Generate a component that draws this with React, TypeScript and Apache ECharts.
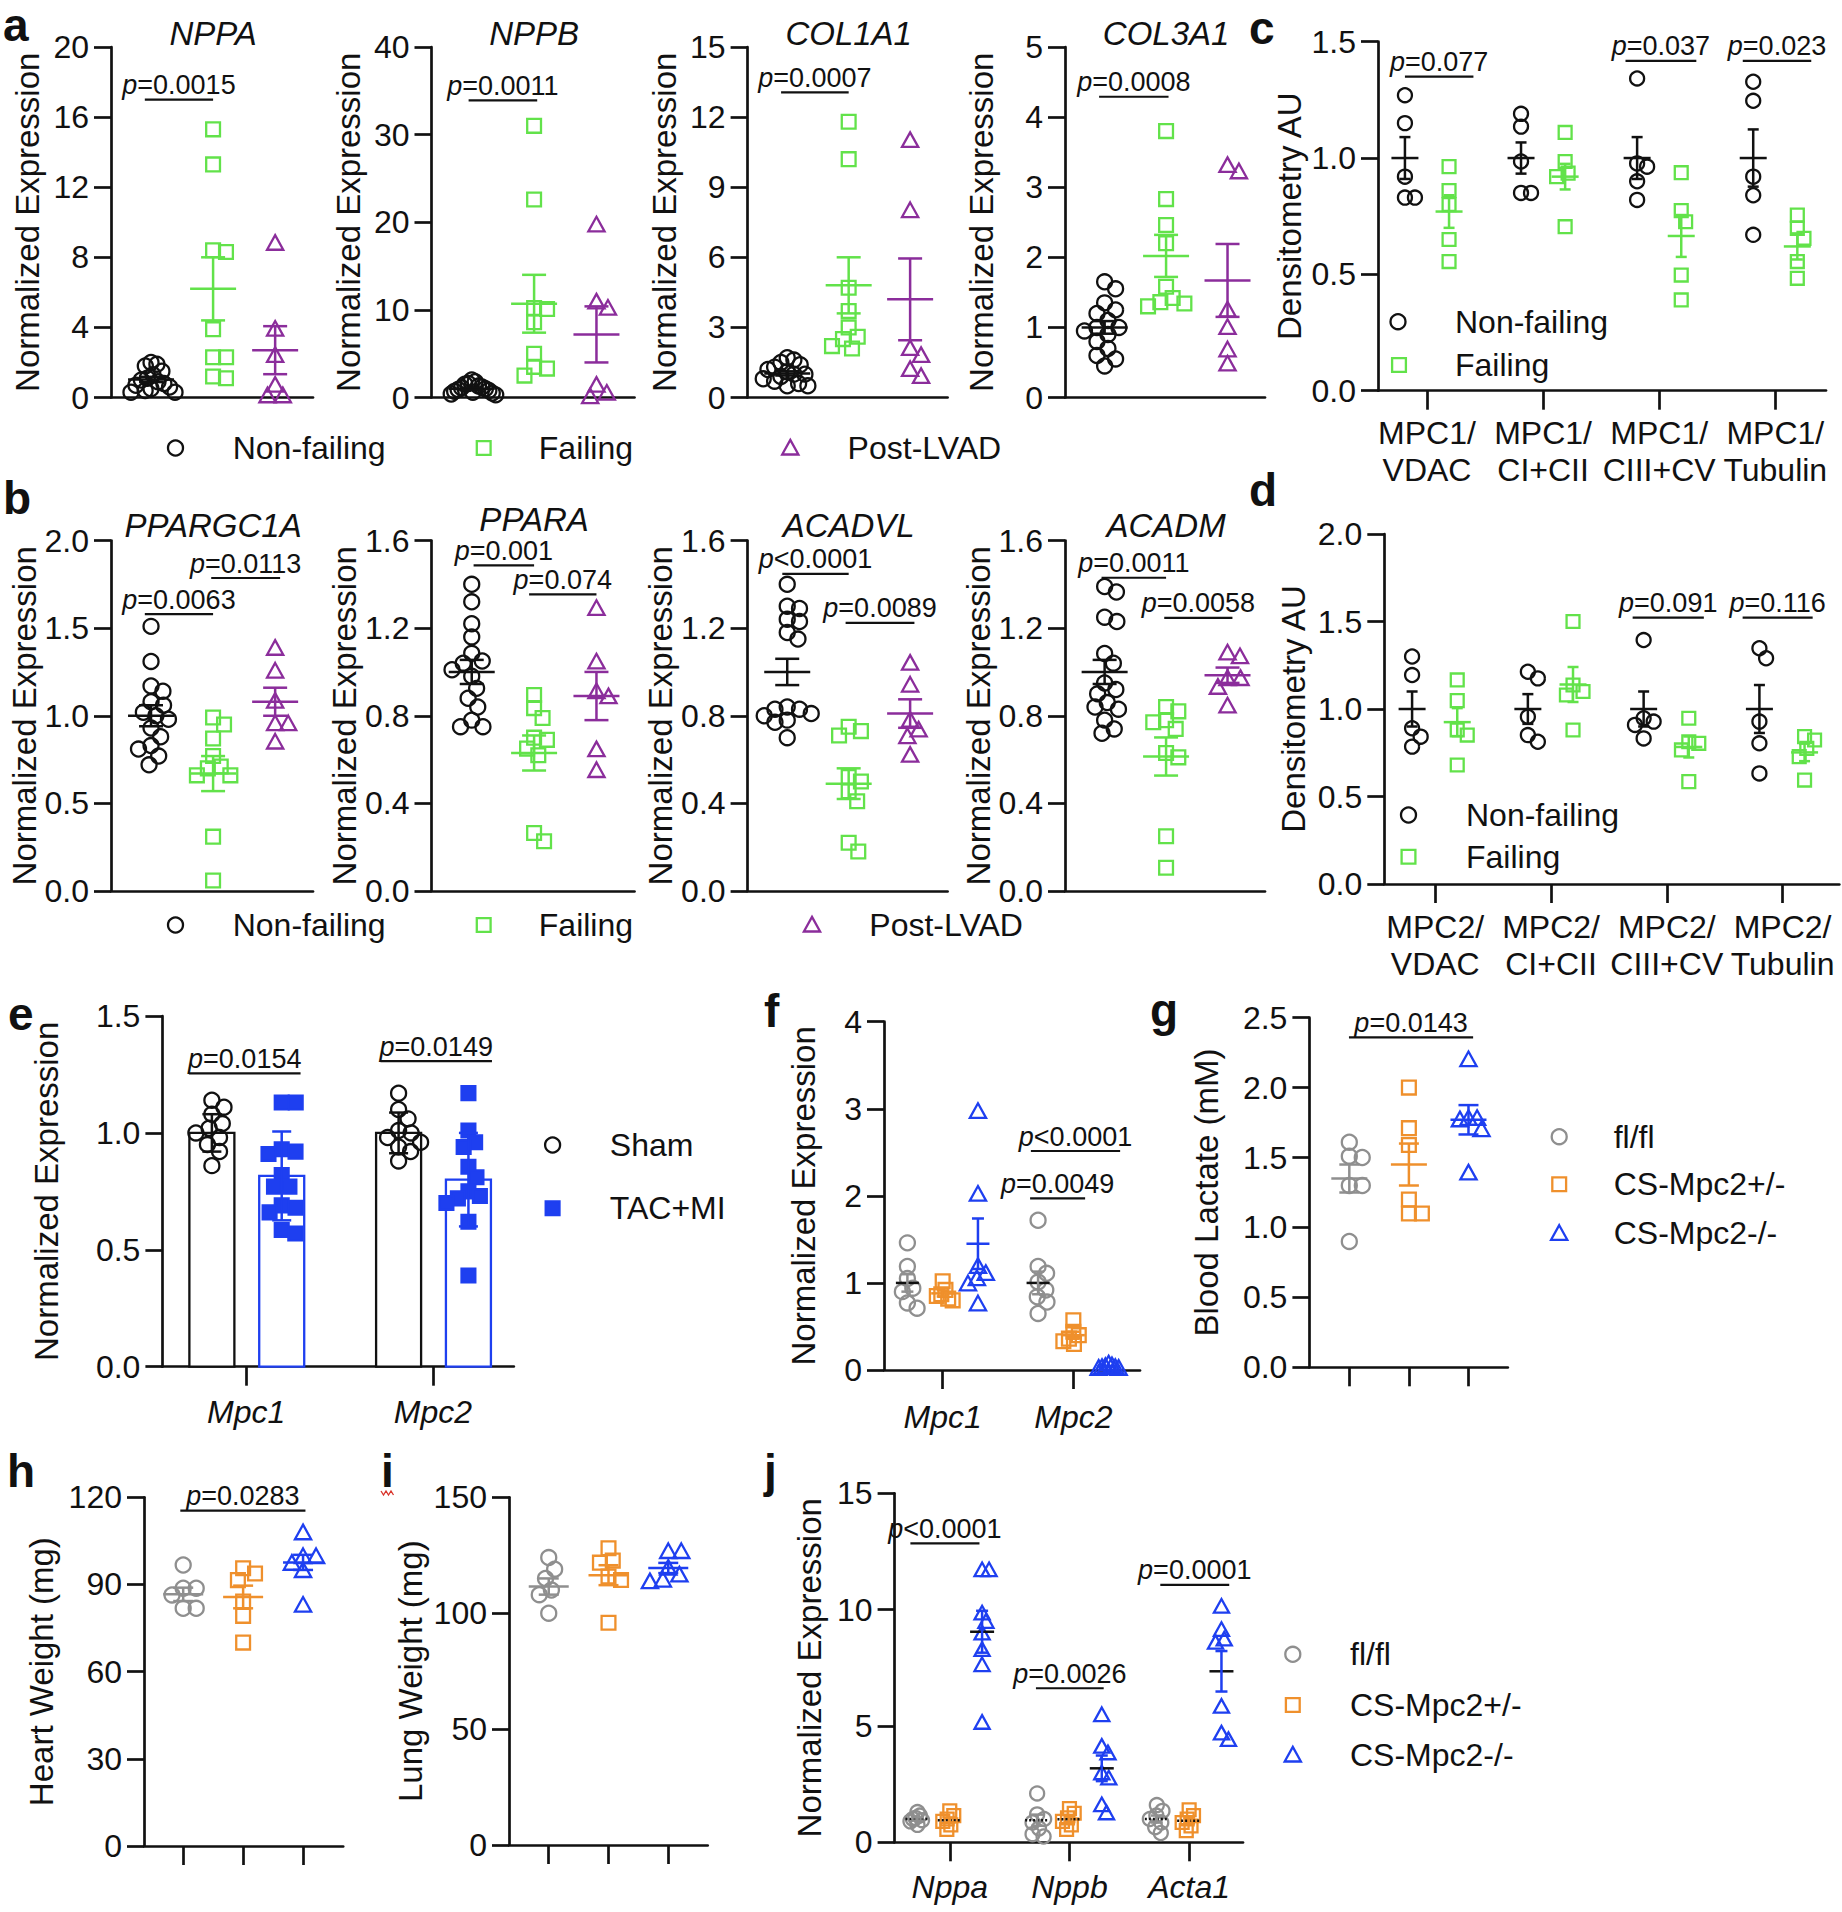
import React, { useEffect, useRef } from 'react';
import * as echarts from 'echarts';

const FONT = '"Liberation Sans", Arial, Helvetica, sans-serif';
const INK = '#111111';
const GREEN = '#62e24a';
const PURPLE = '#8b2d9b';
const GRAY = '#8f8f8f';
const ORANGE = '#ef902c';
const BLUE = '#1e3ff0';

// ---------------- categories / names ----------------
const HUMAN_GROUPS = ['Non-failing', 'Failing', 'Post-LVAD'];
const MOUSE_GROUPS = ['fl/fl', 'CS-Mpc2+/-', 'CS-Mpc2-/-'];
const SURGERY_GROUPS = ['Sham', 'TAC+MI'];
const A_GENES = ['NPPA', 'NPPB', 'COL1A1', 'COL3A1'];
const B_GENES = ['PPARGC1A', 'PPARA', 'ACADVL', 'ACADM'];
const C_CATS = ['MPC1/\nVDAC', 'MPC1/\nCI+CII', 'MPC1/\nCIII+CV', 'MPC1/\nTubulin'];
const D_CATS = ['MPC2/\nVDAC', 'MPC2/\nCI+CII', 'MPC2/\nCIII+CV', 'MPC2/\nTubulin'];
const E_GENES = ['Mpc1', 'Mpc2'];
const F_GENES = ['Mpc1', 'Mpc2'];
const J_GENES = ['Nppa', 'Nppb', 'Acta1'];

// ---------------- axis scales [min, max, interval] ----------------
const A_SCALES = [[0, 20, 4], [0, 40, 10], [0, 15, 3], [0, 5, 1]];
const B_SCALES = [[0, 2, 0.5], [0, 1.6, 0.4], [0, 1.6, 0.4], [0, 1.6, 0.4]];
const C_SCALE = [0, 1.5, 0.5];
const D_SCALE = [0, 2, 0.5];
const E_SCALE = [0, 1.5, 0.5];
const F_SCALE = [0, 4, 1];
const G_SCALE = [0, 2.5, 0.5];
const H_SCALE = [0, 120, 30];
const I_SCALE = [0, 150, 50];
const J_SCALE = [0, 15, 5];

// ---------------- panel a ----------------
const NPPA_NF = [2.0, 1.9, 1.8, 1.5, 1.3, 1.1, 1.0, 0.9, 0.8, 0.7, 0.6, 0.5, 0.4, 0.3, 0.3];
const NPPA_F = [15.3, 13.3, 8.4, 8.3, 3.9, 2.3, 2.3, 1.2, 1.1];
const NPPA_LVAD = [8.8, 3.9, 2.4, 0.7, 0.1, 0.1];
const NPPA_MEAN = [1.03, 6.2, 2.7];
const NPPA_SEM = [0.15, 1.8, 1.37];

const NPPB_NF = [2.0, 1.8, 1.6, 1.5, 1.3, 1.2, 1.1, 1.0, 0.9, 0.8, 0.7, 0.6, 0.5, 0.4, 0.3];
const NPPB_F = [31.0, 22.6, 10.2, 10.1, 8.6, 5.0, 3.5, 3.3, 2.5];
const NPPB_LVAD = [19.7, 10.9, 10.2, 1.4, 0.5, 0.1];
const NPPB_MEAN = [1.0, 10.7, 7.2];
const NPPB_SEM = [0.13, 3.3, 3.2];

const COL1A1_NF = [1.7, 1.6, 1.5, 1.4, 1.3, 1.2, 1.1, 1.0, 1.0, 0.9, 0.8, 0.7, 0.6, 0.5, 0.5];
const COL1A1_F = [11.8, 10.2, 4.7, 3.7, 3.0, 2.6, 2.5, 2.2, 2.1];
const COL1A1_LVAD = [11.0, 8.0, 2.1, 1.8, 1.2, 0.9];
const COL1A1_MEAN = [1.03, 4.8, 4.2];
const COL1A1_SEM = [0.09, 1.2, 1.75];

const COL3A1_NF = [1.65, 1.55, 1.35, 1.25, 1.2, 1.1, 1.0, 1.0, 0.95, 0.9, 0.8, 0.7, 0.6, 0.55, 0.45];
const COL3A1_F = [3.8, 2.83, 2.46, 2.2, 1.58, 1.42, 1.36, 1.34, 1.3];
const COL3A1_LVAD = [3.31, 3.22, 1.25, 1.0, 0.68, 0.48];
const COL3A1_MEAN = [1.0, 2.02, 1.67];
const COL3A1_SEM = [0.09, 0.3, 0.52];

const A_P = [
  [{ x1: 0.9, x2: 2.0, y: 17, t: '=0.0015' }],
  [{ x1: 0.95, x2: 2.05, y: 33.9, t: '=0.0011' }],
  [{ x1: 0.9, x2: 2.0, y: 13.06, t: '=0.0007' }],
  [{ x1: 0.91, x2: 2.04, y: 4.29, t: '=0.0008' }],
];

// ---------------- panel b ----------------
const PPARGC1A_NF = [1.51, 1.31, 1.17, 1.14, 1.08, 1.06, 1.02, 1.0, 0.98, 0.93, 0.88, 0.83, 0.81, 0.77, 0.72];
const PPARGC1A_F = [0.99, 0.95, 0.87, 0.77, 0.71, 0.7, 0.66, 0.66, 0.31, 0.06];
const PPARGC1A_LVAD = [1.385, 1.255, 1.083, 0.955, 0.955, 0.85];
const PPARGC1A_MEAN = [1.0, 0.67, 1.08];
const PPARGC1A_SEM = [0.06, 0.1, 0.08];

const PPARA_NF = [1.4, 1.32, 1.22, 1.16, 1.085, 1.05, 1.04, 1.01, 0.98, 0.925, 0.88, 0.84, 0.78, 0.75, 0.75];
const PPARA_F = [0.895, 0.835, 0.79, 0.7, 0.69, 0.65, 0.62, 0.265, 0.227];
const PPARA_LVAD = [1.29, 1.046, 0.91, 0.887, 0.645, 0.55];
const PPARA_MEAN = [1.0, 0.63, 0.89];
const PPARA_SEM = [0.055, 0.08, 0.11];

const ACADVL_NF = [1.4, 1.3, 1.29, 1.24, 1.23, 1.18, 1.15, 0.84, 0.83, 0.83, 0.81, 0.8, 0.78, 0.77, 0.7];
const ACADVL_F = [0.75, 0.73, 0.71, 0.52, 0.5, 0.455, 0.41, 0.22, 0.18];
const ACADVL_LVAD = [1.04, 0.94, 0.78, 0.735, 0.705, 0.62];
const ACADVL_MEAN = [1.0, 0.49, 0.81];
const ACADVL_SEM = [0.06, 0.07, 0.065];

const ACADM_NF = [1.39, 1.365, 1.25, 1.23, 1.084, 1.04, 0.95, 0.92, 0.9, 0.86, 0.84, 0.83, 0.78, 0.74, 0.72];
const ACADM_F = [0.84, 0.82, 0.78, 0.77, 0.74, 0.63, 0.61, 0.25, 0.106];
const ACADM_LVAD = [1.087, 1.07, 0.97, 0.97, 0.93, 0.845];
const ACADM_MEAN = [1.0, 0.614, 0.985];
const ACADM_SEM = [0.055, 0.087, 0.035];

const B_P = [
  [{ x1: 0.9, x2: 2.0, y: 1.58, t: '=0.0063' }, { x1: 1.97, x2: 3.08, y: 1.786, t: '=0.0113' }],
  [{ x1: 1.03, x2: 2.0, y: 1.486, t: '=0.001' }, { x1: 1.92, x2: 3.0, y: 1.354, t: '=0.074' }],
  [{ x1: 0.92, x2: 2.0, y: 1.448, t: '<0.0001' }, { x1: 1.95, x2: 3.07, y: 1.224, t: '=0.0089' }],
  [{ x1: 0.95, x2: 2.0, y: 1.43, t: '=0.0011' }, { x1: 1.97, x2: 3.08, y: 1.247, t: '=0.0058' }],
];

// ---------------- panel c ----------------
const C_NF = [[1.27, 1.15, 0.92, 0.83, 0.83], [1.19, 1.135, 0.985, 0.85, 0.85], [1.342, 0.977, 0.963, 0.9, 0.82], [1.328, 1.246, 0.92, 0.84, 0.67]];
const C_F = [[0.963, 0.86, 0.8, 0.65, 0.555], [1.11, 0.985, 0.935, 0.92, 0.705], [0.937, 0.774, 0.726, 0.497, 0.39], [0.755, 0.698, 0.655, 0.555, 0.483]];
const C_NF_MEAN = [1, 1, 1, 1];
const C_NF_SEM = [0.09, 0.067, 0.09, 0.123];
const C_F_MEAN = [0.77, 0.92, 0.665, 0.62];
const C_F_SEM = [0.07, 0.055, 0.09, 0.056];
const C_P = [
  { x1: 0.81, x2: 1.4, y: 1.35, t: '=0.077' },
  { x1: 2.71, x2: 3.32, y: 1.418, t: '=0.037' },
  { x1: 3.72, x2: 4.31, y: 1.418, t: '=0.023' },
];

// ---------------- panel d ----------------
const D_NF = [[1.3, 1.194, 0.89, 0.842, 0.785], [1.213, 1.175, 0.956, 0.851, 0.813], [1.394, 0.947, 0.928, 0.909, 0.832], [1.347, 1.29, 0.928, 0.804, 0.632]];
const D_F = [[1.166, 1.048, 0.88, 0.851, 0.68], [1.5, 1.137, 1.1, 1.08, 0.88], [0.947, 0.813, 0.804, 0.766, 0.585], [0.842, 0.823, 0.775, 0.728, 0.594]];
const D_NF_MEAN = [1, 1, 1, 1];
const D_NF_SEM = [0.1, 0.085, 0.1, 0.137];
const D_F_MEAN = [0.925, 1.14, 0.783, 0.752];
const D_F_SEM = [0.08, 0.1, 0.06, 0.05];
const D_P = [
  { x1: 2.705, x2: 3.32, y: 1.522, t: '=0.091' },
  { x1: 3.655, x2: 4.26, y: 1.522, t: '=0.116' },
];

// ---------------- panel e ----------------
const E_SHAM = [[1.14, 1.11, 1.08, 1.04, 1.02, 1.0, 0.98, 0.95, 0.92, 0.86], [1.17, 1.1, 1.06, 1.01, 1.0, 0.98, 0.96, 0.94, 0.92, 0.88]];
const E_TAC = [[1.13, 1.13, 0.93, 0.92, 0.91, 0.82, 0.77, 0.77, 0.69, 0.68, 0.66, 0.585, 0.57], [1.17, 1.01, 0.96, 0.94, 0.855, 0.81, 0.75, 0.73, 0.72, 0.7, 0.62, 0.39]];
const E_SHAM_MEAN = [1.0, 1.0];
const E_SHAM_SD = [0.08, 0.087];
const E_TAC_MEAN = [0.816, 0.8];
const E_TAC_SD = [0.19, 0.2];
const E_P = [
  { x1: 0.693, x2: 1.291, y: 1.255, t: '=0.0154' },
  { x1: 1.719, x2: 2.316, y: 1.307, t: '=0.0149' },
];

// ---------------- panel f ----------------
const F_FLFL = [[1.46, 1.19, 1.05, 0.94, 0.9, 0.77, 0.71], [1.72, 1.19, 1.11, 1.01, 0.92, 0.84, 0.78, 0.65]];
const F_HET = [[1.02, 0.92, 0.87, 0.85, 0.82, 0.8], [0.57, 0.44, 0.4, 0.36, 0.33, 0.3]];
const F_KO = [[2.97, 2.02, 1.19, 1.11, 1.05, 0.99, 0.76], [0.07, 0.05, 0.04, 0.03, 0.03, 0.02, 0.02]];
const F_FLFL_MEAN = [1.0, 1.0];
const F_FLFL_SEM = [0.1, 0.13];
const F_HET_MEAN = [0.88, 0.4];
const F_HET_SEM = [0.035, 0.04];
const F_KO_MEAN = [1.45, 0.04];
const F_KO_SEM = [0.29, 0.007];
const F_P = [
  { x1: 1.669, x2: 2.09, y: 1.97, t: '=0.0049' },
  { x1: 1.675, x2: 2.358, y: 2.515, t: '<0.0001' },
];

// ---------------- panel g ----------------
const G_FLFL = [1.61, 1.51, 1.5, 1.3, 1.3, 0.9];
const G_HET = [2.0, 1.71, 1.59, 1.2, 1.1, 1.1];
const G_KO = [2.2, 1.78, 1.78, 1.77, 1.7, 1.39];
const G_MEAN = [1.35, 1.45, 1.77];
const G_SEM = [0.1, 0.15, 0.105];
const G_P = [{ x1: 0.994, x2: 3.078, y: 2.36, t: '=0.0143' }];

// ---------------- panel h ----------------
const H_FLFL = [96.7, 88.7, 88.7, 86.4, 81.8, 81.8];
const H_HET = [95.6, 93.8, 91.5, 84.1, 79.2, 70.0];
const H_KO = [107.8, 99.6, 99.6, 97.3, 94.8, 82.9];
const H_MEAN = [86.6, 85.7, 97.6];
const H_SEM = [2.3, 3.9, 2.6];
const H_P = [{ x1: 0.952, x2: 3.04, y: 115.4, t: '=0.0283' }];

// ---------------- panel i ----------------
const I_FLFL = [124, 119, 115, 110, 108, 100];
const I_HET = [128, 122.7, 121.8, 115.8, 114.3, 95.9];
const I_KO = [126.6, 126.6, 119.4, 116.5, 114.3, 113.6];
const I_MEAN = [111.5, 116.4, 119.5];
const I_SEM = [3.5, 4.3, 2.2];

// ---------------- panel j ----------------
const J_FLFL = [[1.3, 1.15, 1.05, 1.0, 0.95, 0.9, 0.75], [2.1, 1.2, 1.0, 0.85, 0.6, 0.35, 0.25], [1.6, 1.35, 1.15, 1.0, 0.85, 0.65, 0.4]];
const J_HET = [[1.35, 1.15, 1.0, 0.9, 0.75, 0.55], [1.45, 1.25, 1.05, 0.9, 0.75, 0.55], [1.4, 1.15, 1.0, 0.85, 0.7, 0.5]];
const J_KO = [[11.7, 11.7, 9.84, 9.48, 8.98, 8.27, 7.62, 5.14], [5.47, 4.11, 3.83, 2.97, 2.75, 1.6, 1.25], [10.13, 9.13, 8.72, 8.58, 5.83, 4.68, 4.4]];
const J_FLFL_MEAN = [1.0, 0.95, 1.0];
const J_FLFL_SEM = [0.07, 0.24, 0.15];
const J_HET_MEAN = [0.95, 0.99, 0.93];
const J_HET_SEM = [0.1, 0.12, 0.12];
const J_KO_MEAN = [9.05, 3.18, 7.35];
const J_KO_SEM = [0.9, 0.55, 0.87];
const J_P = [
  { x1: 0.671, x2: 1.248, y: 12.85, t: '<0.0001' },
  { x1: 1.72, x2: 2.286, y: 6.62, t: '=0.0026' },
  { x1: 2.759, x2: 3.335, y: 11.06, t: '=0.0001' },
];

// ---------------- layout (pixels) ----------------
const AB_LEFT = [111, 431.5, 747.6, 1065];
const AB_WIDTH = [202, 203, 200, 200];
const AB_XR = [0.355, 3.61];
const ROW_A_TOP = 47;
const ROW_B_TOP = 540.5;
const ROW_H = 350.5;
const A_TITLE_Y = [33.5, 33.5, 33.5, 33.5];
const B_TITLE_Y = [525, 519, 525, 525];

const HUMAN_STYLE = [
  { color: INK, shape: 'circle' },
  { color: GREEN, shape: 'square' },
  { color: PURPLE, shape: 'triangle' },
];
const MOUSE_STYLE = [
  { color: GRAY, shape: 'circle' },
  { color: ORANGE, shape: 'square' },
  { color: BLUE, shape: 'triangle' },
];

function humanPanel(col: number, top: number, vals: number[][], means: number[], sems: number[], scale: number[], dec: number, brackets: any[]) {
  return {
    rect: [AB_LEFT[col], top, AB_WIDTH[col], ROW_H],
    xr: AB_XR, y: scale, dec, name: 'Normalized Expression', gap: 67,
    groups: vals.map((v, g) => ({ x: g + 1, v, mean: means[g], sem: sems[g], ...HUMAN_STYLE[g] })),
    brackets, mh: 23, ch: 12, d: 13, r: 7.5, spread: 24,
  };
}

function mousePanel3(rect: number[], xr: number[], scale: number[], dec: number, name: string, gap: number, vals: number[][], means: number[], sems: number[], brackets: any[], mh: number, ch: number, spread: number) {
  return {
    rect, xr, y: scale, dec, name, gap, xt: [1, 2, 3],
    groups: vals.map((v, g) => ({ x: g + 1, v, mean: means[g], sem: sems[g], ...MOUSE_STYLE[g] })),
    brackets, mh, ch, d: 13, r: 7.5, spread,
  };
}

function buildPanels() {
  const panels: any[] = [];
  const aVals = [[NPPA_NF, NPPA_F, NPPA_LVAD], [NPPB_NF, NPPB_F, NPPB_LVAD], [COL1A1_NF, COL1A1_F, COL1A1_LVAD], [COL3A1_NF, COL3A1_F, COL3A1_LVAD]];
  const aMean = [NPPA_MEAN, NPPB_MEAN, COL1A1_MEAN, COL3A1_MEAN];
  const aSem = [NPPA_SEM, NPPB_SEM, COL1A1_SEM, COL3A1_SEM];
  for (let k = 0; k < 4; k++) panels.push(humanPanel(k, ROW_A_TOP, aVals[k], aMean[k], aSem[k], A_SCALES[k], 0, A_P[k]));
  const bVals = [[PPARGC1A_NF, PPARGC1A_F, PPARGC1A_LVAD], [PPARA_NF, PPARA_F, PPARA_LVAD], [ACADVL_NF, ACADVL_F, ACADVL_LVAD], [ACADM_NF, ACADM_F, ACADM_LVAD]];
  const bMean = [PPARGC1A_MEAN, PPARA_MEAN, ACADVL_MEAN, ACADM_MEAN];
  const bSem = [PPARGC1A_SEM, PPARA_SEM, ACADVL_SEM, ACADM_SEM];
  for (let k = 0; k < 4; k++) panels.push(humanPanel(k, ROW_B_TOP, bVals[k], bMean[k], bSem[k], B_SCALES[k], 1, B_P[k]));

  // c
  panels.push({
    rect: [1378, 41.7, 448, 349], xr: [0.578, 4.437], y: C_SCALE, dec: 1, name: 'Densitometry AU', gap: 72,
    xt: [1, 2, 3, 4], xl: C_CATS, xMargin: 24,
    groups: [
      ...C_NF.map((v, k) => ({ x: k + 1 - 0.19, v, mean: C_NF_MEAN[k], sem: C_NF_SEM[k], color: INK, shape: 'circle' })),
      ...C_F.map((v, k) => ({ x: k + 1 + 0.19, v, mean: C_F_MEAN[k], sem: C_F_SEM[k], color: GREEN, shape: 'square' })),
    ],
    brackets: C_P, mh: 13.5, ch: 5.5, d: 12, r: 7, spread: 10,
  });
  // d
  panels.push({
    rect: [1384.3, 534, 455, 350], xr: [0.56, 4.49], y: D_SCALE, dec: 1, name: 'Densitometry AU', gap: 74,
    xt: [1, 2, 3, 4], xl: D_CATS, xMargin: 24,
    groups: [
      ...D_NF.map((v, k) => ({ x: k + 1 - 0.2, v, mean: D_NF_MEAN[k], sem: D_NF_SEM[k], color: INK, shape: 'circle' })),
      ...D_F.map((v, k) => ({ x: k + 1 + 0.19, v, mean: D_F_MEAN[k], sem: D_F_SEM[k], color: GREEN, shape: 'square' })),
    ],
    brackets: D_P, mh: 13.5, ch: 5.5, d: 12, r: 7, spread: 10,
  });
  // e
  panels.push({
    rect: [162.4, 1016, 351.4, 350.7], xr: [0.551, 2.433], y: E_SCALE, dec: 1, name: 'Normalized Expression', gap: 99,
    xt: [1, 2], xl: E_GENES, xItalic: true, xMargin: 27,
    groups: [
      ...E_SHAM.map((v, k) => ({ x: k + 1 - 0.184, v, mean: E_SHAM_MEAN[k], sem: E_SHAM_SD[k], color: INK, shape: 'circle', bar: true })),
      ...E_TAC.map((v, k) => ({ x: k + 1 + 0.19, v, mean: E_TAC_MEAN[k], sem: E_TAC_SD[k], color: BLUE, shape: 'square', filled: true, bar: true })),
    ],
    brackets: E_P, mh: 0, ch: 9.5, d: 14, r: 7.5, spread: 22,
  });
  // f
  const fVals = [F_FLFL, F_HET, F_KO];
  const fMean = [F_FLFL_MEAN, F_HET_MEAN, F_KO_MEAN];
  const fSem = [F_FLFL_SEM, F_HET_SEM, F_KO_SEM];
  const fGroups: any[] = [];
  for (let k = 0; k < 2; k++) for (let g = 0; g < 3; g++) {
    fGroups.push({ x: k + 1 + (g - 1) * 0.27, v: fVals[g][k], mean: fMean[g][k], sem: fSem[g][k], ...MOUSE_STYLE[g], meanColor: g === 0 ? INK : undefined });
  }
  panels.push({
    rect: [884, 1021.7, 256, 348.3], xr: [0.551, 2.51], y: F_SCALE, dec: 0, name: 'Normalized Expression', gap: 64,
    xt: [1, 2], xl: F_GENES, xItalic: true, xMargin: 28.7,
    groups: fGroups, brackets: F_P, mh: 11.5, ch: 6, d: 11, r: 7.5, spread: 10,
  });
  // g, h, i
  panels.push(mousePanel3([1309.4, 1017.7, 198.4, 349.6], [0.33, 3.66], G_SCALE, 1, 'Blood Lactate (mM)', 86, [G_FLFL, G_HET, G_KO], G_MEAN, G_SEM, G_P, 18, 10, 13));
  panels.push(mousePanel3([144, 1497.3, 199.2, 348.7], [0.346, 3.67], H_SCALE, 0, 'Heart Weight (mg)', 86, [H_FLFL, H_HET, H_KO], H_MEAN, H_SEM, H_P, 20, 10, 19));
  panels.push(mousePanel3([509, 1497.3, 198.7, 347.7], [0.335, 3.66], I_SCALE, 0, 'Lung Weight (mg)', 82, [I_FLFL, I_HET, I_KO], I_MEAN, I_SEM, [], 20, 10, 19));
  // j
  const jVals = [J_FLFL, J_HET, J_KO];
  const jMean = [J_FLFL_MEAN, J_HET_MEAN, J_KO_MEAN];
  const jSem = [J_FLFL_SEM, J_HET_SEM, J_KO_SEM];
  const jGroups: any[] = [];
  for (let k = 0; k < 3; k++) for (let g = 0; g < 3; g++) {
    jGroups.push({ x: k + 1 + (g - 1) * 0.27, v: jVals[g][k], mean: jMean[g][k], sem: jSem[g][k], ...MOUSE_STYLE[g], meanColor: INK, meanDash: g < 2 });
  }
  panels.push({
    rect: [894.6, 1493.3, 348.4, 349], xr: [0.539, 3.45], y: J_SCALE, dec: 0, name: 'Normalized Expression', gap: 69,
    xt: [1, 2, 3], xl: J_GENES, xItalic: true, xMargin: 26,
    groups: jGroups, brackets: J_P, mh: 12, ch: 6, d: 10, r: 7, spread: 7,
  });
  return panels;
}

// ---------------- drawing helpers ----------------
function sym(shape: string, cx: number, cy: number, r: number, color: string, filled = false, lw = 2.3): any {
  const style = { fill: filled ? color : 'none', stroke: color, lineWidth: lw };
  if (shape === 'circle') return { type: 'circle', shape: { cx, cy, r }, style };
  if (shape === 'square') {
    const h = r * 0.92;
    return { type: 'rect', shape: { x: cx - h, y: cy - h, width: 2 * h, height: 2 * h }, style };
  }
  const h = r * 1.08;
  return { type: 'polygon', shape: { points: [[cx, cy - h], [cx + h, cy + h * 0.8], [cx - h, cy + h * 0.8]] }, style };
}

// beeswarm-style horizontal offsets in pixels, compressed to a maximum spread
function swarm(ys: number[], d: number, spread: number): number[] {
  const xs = new Array(ys.length).fill(0);
  const placed: { x: number; y: number }[] = [];
  ys.forEach((y, i) => {
    const cands = [0];
    for (const p of placed) {
      const dy = Math.abs(p.y - y);
      if (dy < d) {
        const dx = Math.sqrt(d * d - dy * dy) + 0.01;
        cands.push(p.x + dx, p.x - dx);
      }
    }
    cands.sort((a, b) => Math.abs(a) - Math.abs(b));
    let best = cands[0];
    for (const c of cands) {
      if (placed.every((p) => (p.x - c) * (p.x - c) + (p.y - y) * (p.y - y) >= d * d - 0.5)) { best = c; break; }
    }
    xs[i] = best;
    placed.push({ x: best, y });
  });
  const m = Math.max(...xs.map((x) => Math.abs(x)));
  if (m > spread) return xs.map((x) => (x * spread) / m);
  return xs;
}

function groupRender(g: any, p: any) {
  return (params: any, api: any) => {
    const c0 = api.coord([g.x, 0]);
    const cx = c0[0];
    const base = c0[1];
    const ys = g.v.map((v: number) => api.coord([g.x, v])[1]);
    const xs = swarm(ys, p.d, p.spread);
    const kids: any[] = [];
    const ym = api.coord([g.x, g.mean])[1];
    if (g.bar) {
      kids.push({ type: 'rect', shape: { x: cx - 22.5, y: ym, width: 45, height: base - ym }, style: { fill: '#ffffff', stroke: g.color, lineWidth: 2.3 } });
    }
    ys.forEach((y: number, k: number) => kids.push(sym(g.shape, cx + xs[k], y, p.r, g.color, !!g.filled)));
    const yu = api.coord([g.x, g.mean + g.sem])[1];
    const yl = api.coord([g.x, g.mean - g.sem])[1];
    const ls = { stroke: g.color, lineWidth: 2.5 };
    if (!g.bar) {
      kids.push({
        type: 'line', shape: { x1: cx - p.mh, y1: ym, x2: cx + p.mh, y2: ym },
        style: { stroke: g.meanColor || g.color, lineWidth: 2.5, lineDash: g.meanDash ? [2, 2] : null },
      });
    }
    kids.push({ type: 'line', shape: { x1: cx, y1: yu, x2: cx, y2: yl }, style: ls });
    kids.push({ type: 'line', shape: { x1: cx - p.ch, y1: yu, x2: cx + p.ch, y2: yu }, style: ls });
    kids.push({ type: 'line', shape: { x1: cx - p.ch, y1: yl, x2: cx + p.ch, y2: yl }, style: ls });
    return { type: 'group', children: kids };
  };
}

function bracketRender(list: any[]) {
  return (params: any, api: any) => {
    const b = list[params.dataIndex];
    const a = api.coord([b.x1, b.y]);
    const c = api.coord([b.x2, b.y]);
    return {
      type: 'group',
      children: [
        { type: 'line', shape: { x1: a[0], y1: a[1], x2: c[0], y2: c[1] }, style: { stroke: INK, lineWidth: 2.2 } },
        {
          type: 'text', x: (a[0] + c[0]) / 2, y: a[1] - 1,
          style: {
            text: '{i|p}{n|' + b.t + '}',
            rich: {
              i: { fontStyle: 'italic', fontSize: 27, fontFamily: FONT, fill: INK },
              n: { fontSize: 27, fontFamily: FONT, fill: INK },
            },
            fontSize: 27, fontFamily: FONT, fill: INK, align: 'center', verticalAlign: 'bottom',
          },
        },
      ],
    };
  };
}

function txt(x: number, y: number, text: string, size: number, opts: any = {}) {
  return {
    type: 'text', x, y, silent: true,
    style: {
      text, fontSize: size, fontFamily: FONT, fill: INK,
      align: opts.align || 'left', verticalAlign: 'middle',
      fontStyle: opts.italic ? 'italic' : 'normal', fontWeight: opts.bold ? 'bold' : 'normal',
    },
  };
}

// legend layouts: [marker x, marker y, text x]
const LEG_A = [[175.5, 448, 232.7], [483.7, 448, 538.8], [790.3, 448, 847.6]];
const LEG_B = [[175.5, 925, 232.7], [483.7, 925, 538.8], [812, 925, 869.3]];
const LEG_C = [[1398, 321.7, 1455], [1399, 365, 1455]];
const LEG_D = [[1408.5, 815, 1466], [1408.5, 856.7, 1466]];
const LEG_E = [[552.6, 1145, 609.8], [552.6, 1208.3, 609.8]];
const LEG_G = [[1559.2, 1136.7, 1613.7], [1559.2, 1184.3, 1613.7], [1559.2, 1233.3, 1613.7]];
const LEG_J = [[1292.8, 1654.3, 1350], [1292.8, 1705, 1350], [1292.8, 1755, 1350]];
// panel letters: [x, middle y]
const LETTERS: [string, number, number][] = [
  ['a', 3, 25], ['b', 3, 498], ['c', 1249, 28], ['d', 1249, 490], ['e', 8, 1014],
  ['f', 764, 1011], ['g', 1150, 1010], ['h', 7, 1471], ['i', 381, 1471], ['j', 764, 1471],
];

function buildOption() {
  const panels = buildPanels();
  const grid: any[] = [];
  const xAxis: any[] = [];
  const yAxis: any[] = [];
  const series: any[] = [];
  const axisLineStyle = { color: INK, width: 2.7 };
  panels.forEach((p, i) => {
    grid.push({ left: p.rect[0], top: p.rect[1], width: p.rect[2], height: p.rect[3], containLabel: false, outerBoundsMode: 'none' });
    xAxis.push({
      type: 'value', gridIndex: i, min: p.xr[0], max: p.xr[1],
      axisLine: { show: true, onZero: false, lineStyle: axisLineStyle },
      axisTick: p.xt ? { show: true, customValues: p.xt, length: 19, inside: false, lineStyle: axisLineStyle } : { show: false },
      axisLabel: p.xl
        ? {
            show: true, customValues: p.xt, margin: p.xMargin, fontSize: 32, fontFamily: FONT, color: INK,
            fontStyle: p.xItalic ? 'italic' : 'normal', lineHeight: 37,
            formatter: (v: number) => p.xl[Math.round(v) - 1] || '',
          }
        : { show: false },
      splitLine: { show: false },
    });
    yAxis.push({
      type: 'value', gridIndex: i, min: p.y[0], max: p.y[1], interval: p.y[2],
      axisLine: { show: true, onZero: false, lineStyle: axisLineStyle },
      axisTick: { show: true, length: 17, inside: false, lineStyle: axisLineStyle },
      axisLabel: { margin: 22, fontSize: 32, fontFamily: FONT, color: INK, formatter: (v: number) => v.toFixed(p.dec) },
      splitLine: { show: false },
      name: p.name, nameLocation: 'middle', nameGap: p.gap, nameRotate: 90,
      nameTextStyle: { fontSize: 33, fontFamily: FONT, color: INK },
    });
    p.groups.forEach((g: any) => {
      series.push({
        type: 'custom', xAxisIndex: i, yAxisIndex: i, silent: true, clip: false,
        data: [[g.x, g.mean]], encode: { x: 0, y: 1 },
        renderItem: groupRender(g, p),
      });
    });
    if (p.brackets.length) {
      series.push({
        type: 'custom', xAxisIndex: i, yAxisIndex: i, silent: true, clip: false, z: 5,
        data: p.brackets.map((b: any) => [b.x1, b.y, b.x2]), encode: { x: [0, 2], y: 1 },
        renderItem: bracketRender(p.brackets),
      });
    }
  });

  const elements: any[] = [];
  // titles
  A_GENES.forEach((t, k) => elements.push(txt(AB_LEFT[k] + ((2 - AB_XR[0]) * AB_WIDTH[k]) / (AB_XR[1] - AB_XR[0]), A_TITLE_Y[k], t, 33, { align: 'center', italic: true })));
  B_GENES.forEach((t, k) => elements.push(txt(AB_LEFT[k] + ((2 - AB_XR[0]) * AB_WIDTH[k]) / (AB_XR[1] - AB_XR[0]), B_TITLE_Y[k], t, 33, { align: 'center', italic: true })));
  // letters
  LETTERS.forEach(([l, x, y]) => elements.push(txt(x, y, l, 46, { bold: true })));
  elements.push({ type: 'polyline', silent: true, shape: { points: [[381, 1491], [383.5, 1495], [386, 1491], [388.5, 1495], [391, 1491], [393.5, 1495]] }, style: { stroke: '#d9342b', lineWidth: 1.3, fill: 'none' } });
  // legends
  const legend = (lay: number[][], labels: string[], styles: any[], filled: boolean[] = []) => {
    lay.forEach((pos, k) => {
      elements.push(sym(styles[k].shape, pos[0], pos[1], 7.5, styles[k].color, !!filled[k]));
      elements.push(txt(pos[2], pos[1], labels[k], 32));
    });
  };
  legend(LEG_A, HUMAN_GROUPS, HUMAN_STYLE);
  legend(LEG_B, HUMAN_GROUPS, HUMAN_STYLE);
  legend(LEG_C, HUMAN_GROUPS.slice(0, 2), HUMAN_STYLE);
  legend(LEG_D, HUMAN_GROUPS.slice(0, 2), HUMAN_STYLE);
  legend(LEG_E, SURGERY_GROUPS, [{ shape: 'circle', color: INK }, { shape: 'square', color: BLUE }], [false, true]);
  legend(LEG_G, MOUSE_GROUPS, MOUSE_STYLE);
  legend(LEG_J, MOUSE_GROUPS, MOUSE_STYLE);

  return {
    animation: false,
    backgroundColor: '#ffffff',
    textStyle: { fontFamily: FONT },
    grid, xAxis, yAxis, series,
    graphic: { elements },
  };
}

export default function App() {
  const ref = useRef<HTMLDivElement>(null);
  useEffect(() => {
    document.body.style.margin = '0';
    const chart = echarts.init(ref.current as HTMLDivElement, null, { renderer: 'svg' });
    chart.setOption(buildOption() as any);
    return () => chart.dispose();
  }, []);
  return <div ref={ref} style={{ position: 'absolute', left: 0, top: 0, width: 1842, height: 1912, background: '#fff' }} />;
}
